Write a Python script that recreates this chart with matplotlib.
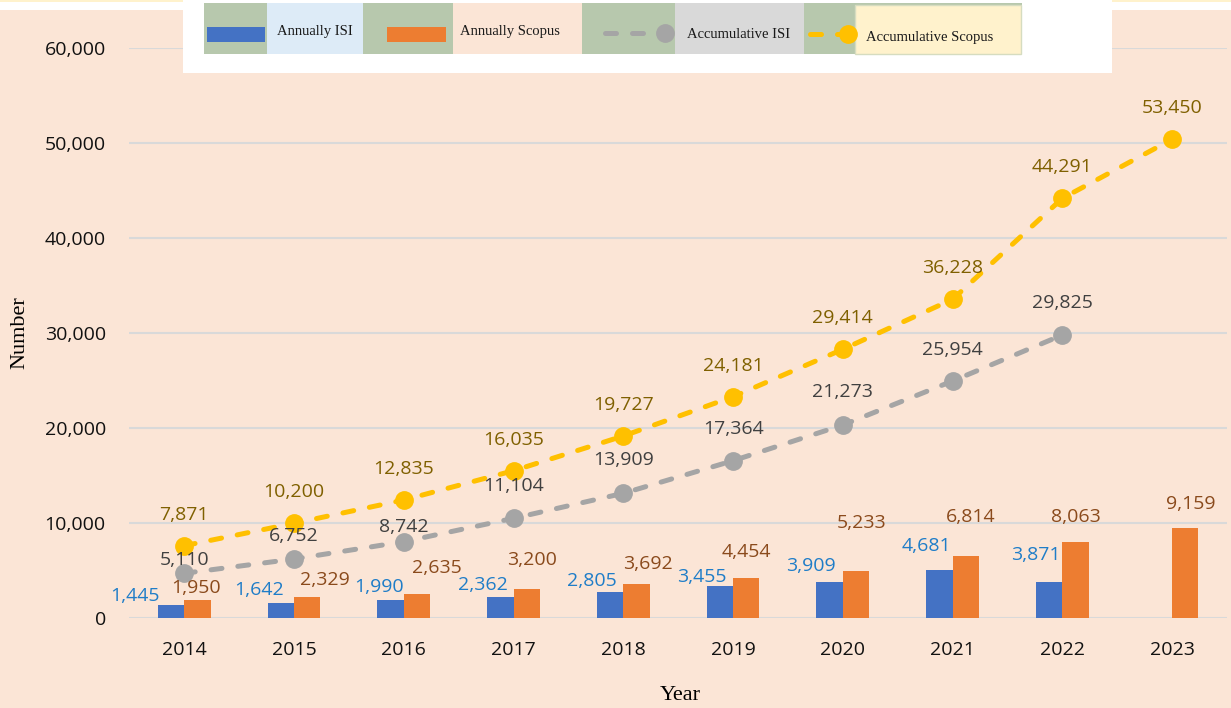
import numpy as np
import matplotlib
matplotlib.use("Agg")
import matplotlib.pyplot as plt
from matplotlib.patches import Rectangle
from matplotlib.lines import Line2D
from matplotlib.ticker import FuncFormatter

# data
years = ["2014", "2015", "2016", "2017", "2018", "2019", "2020", "2021", "2022", "2023"]
# heights as drawn
isi_annual = [1368, 1579, 1926, 2274, 2737, 3400, 3789, 5084, 3853, np.nan]
scopus_annual = [1926, 2242, 2558, 3084, 3579, 4242, 5011, 6558, 8063, 9474]
isi_cum = [4737, 6242, 8063, 10526, 13158, 16590, 20347, 24979, 29821, np.nan]
scopus_cum = [7642, 10000, 12453, 15537, 19189, 23326, 28316, 33579, 44210, 50421]
# numbers printed on the chart
isi_annual_lbl = [1445, 1642, 1990, 2362, 2805, 3455, 3909, 4681, 3871]
scopus_annual_lbl = [1950, 2329, 2635, 3200, 3692, 4454, 5233, 6814, 8063, 9159]
isi_cum_lbl = [5110, 6752, 8742, 11104, 13909, 17364, 21273, 25954, 29825]
scopus_cum_lbl = [7871, 10200, 12835, 16035, 19727, 24181, 29414, 36228, 44291, 53450]

# label offsets in pixels (layout only)
isi_bar_dx = [-11, 3, 13, 7, 7, 7, 6, 12, 11]
isi_bar_dy = [9, 13, 13, 12, 11, 9, 16, 24, 27]
sc_bar_dx = [-1, 18, 20, 5, 11, 0, 6, 5, 0, 5]
sc_bar_dy = [12, 17, 26, 29, 20, 26, 48, 39, 25, 24]
isi_cum_dy = [13, 23, 15, 32, 33, 32, 33, 31, 32]

W, H = 1231, 708
BG = "#FBE5D6"
BLUE, ORANGE, GRAY, YELLOW = "#4472C4", "#ED7D31", "#A5A5A5", "#FFC000"
NUM_FONT = "Open Sans"
SERIF = "Liberation Serif"
FS = 14

fig = plt.figure(figsize=(W / 100, H / 100), dpi=100, facecolor=BG)
ax = fig.add_axes([129.4 / W, (H - 618.3) / H, 1097.6 / W, 570 / H])
ax.set_facecolor("none")

x = np.arange(len(years))
bw = 0.24
ax.bar(x - bw / 2, isi_annual, width=bw, color=BLUE, zorder=2)
ax.bar(x + bw / 2, scopus_annual, width=bw, color=ORANGE, zorder=2)

dash = (0, (2.2, 3.2))
line_kw = dict(lw=3.6, ls=dash, dash_capstyle="round", marker="o", ms=12.5, clip_on=False)
ax.plot(x, isi_cum, color=GRAY, zorder=3, **line_kw)
ax.plot(x, scopus_cum, color=YELLOW, zorder=4, **line_kw)

fmt = lambda v: f"{v:,}"
for i, v in enumerate(isi_annual_lbl):
    ax.annotate(fmt(v), (x[i] - bw / 2, isi_annual[i]), xytext=(isi_bar_dx[i], isi_bar_dy[i]),
                textcoords="offset pixels", ha="right", va="center", color="#1F7DC8",
                fontsize=FS, family=NUM_FONT, zorder=5)
for i, v in enumerate(scopus_annual_lbl):
    ax.annotate(fmt(v), (x[i] + bw / 2, scopus_annual[i]), xytext=(sc_bar_dx[i], sc_bar_dy[i]),
                textcoords="offset pixels", ha="center", va="center", color="#8A4A1C",
                fontsize=FS, family=NUM_FONT, zorder=5)
for i, v in enumerate(isi_cum_lbl):
    ax.annotate(fmt(v), (x[i], isi_cum[i]), xytext=(0, isi_cum_dy[i]),
                textcoords="offset pixels", ha="center", va="center", color="#404040",
                fontsize=FS, family=NUM_FONT, zorder=5)
for i, v in enumerate(scopus_cum_lbl):
    ax.annotate(fmt(v), (x[i], scopus_cum[i]), xytext=(0, 31),
                textcoords="offset pixels", ha="center", va="center", color="#7F6000",
                fontsize=FS, family=NUM_FONT, zorder=5)

ax.set_xlim(-0.5, len(years) - 0.5)
ax.set_ylim(0, 60000)
ax.set_yticks(np.arange(0, 60001, 10000))
ax.yaxis.set_major_formatter(FuncFormatter(lambda v, p: f"{int(v):,}"))
ax.set_xticks(x)
ax.set_xticklabels(years)
ax.tick_params(length=0, labelsize=FS, labelcolor="#111111")
ax.tick_params(axis="y", pad=17)
ax.tick_params(axis="x", pad=16)
for lab in ax.get_xticklabels() + ax.get_yticklabels():
    lab.set_family(NUM_FONT)
for s in ax.spines.values():
    s.set_visible(False)
ax.yaxis.grid(True, color="#D9D9D9", lw=1.5, zorder=0)
ax.set_axisbelow(True)

fig.text(20 / W, 1 - 333 / H, "Number", rotation=90, ha="center", va="center",
         family=SERIF, fontsize=16)
fig.text(680 / W, 1 - 695 / H, "Year", ha="center", va="center", family=SERIF, fontsize=16)


# legend panel pasted on top (pixel boxes)
def box(x0, y0, x1, y1, color, ec="none"):
    fig.add_artist(Rectangle((x0 / W, 1 - y1 / H), (x1 - x0) / W, (y1 - y0) / H,
                             transform=fig.transFigure, facecolor=color, edgecolor=ec, lw=1))


def seg(xs, y, color, marker_x):
    fig.add_artist(Line2D([v / W for v in xs], [1 - y / H] * 2, transform=fig.transFigure,
                          color=color, lw=3.6, ls=dash, dash_capstyle="round"))
    fig.add_artist(Line2D([marker_x / W], [1 - y / H], transform=fig.transFigure,
                          color=color, marker="o", ms=12.5, ls="none"))


box(0, 0, W, 10, "white")
box(0, 0, W, 1.5, "#FFF2CC")
box(183, 0, 1112, 73, "white")
box(204, 3, 1022, 54, "#B7C8AD")
box(207, 27, 265, 42, BLUE)
box(387, 27, 446, 42, ORANGE)
seg([605, 665], 33, GRAY, 665)
seg([810, 848], 34, YELLOW, 848)
box(267, 3, 363, 54, "#DDEBF7")
box(453, 3, 582, 54, BG)
box(675, 3, 804, 54, "#D9D9D9")
box(855, 5, 1021, 54, "#FFF2CC", ec="#D6DCC0")
for tx, ty, s in [(315, 32, "Annually ISI"), (510, 32, "Annually Scopus"),
                  (739, 35, "Accumulative ISI"), (930, 37, "Accumulative Scopus")]:
    fig.text(tx / W, 1 - ty / H, s, ha="center", va="center", family=SERIF,
             fontsize=10.5, color="#1A1A1A")

fig.savefig("out.png", dpi=100, facecolor=BG)
